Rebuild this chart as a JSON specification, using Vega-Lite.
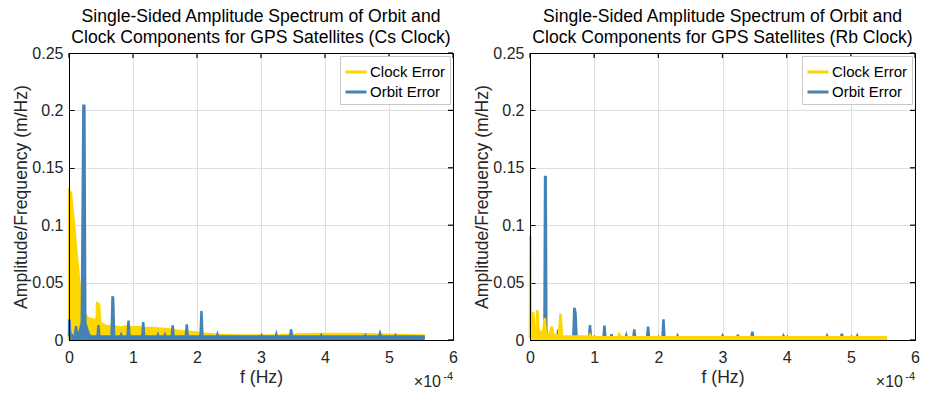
{
  "$schema": "https://vega.github.io/schema/vega-lite/v6.json",
  "background": "white",
  "padding": {"left": 12, "top": 7, "right": 5, "bottom": 5},
  "config": {
    "font": "Liberation Sans",
    "view": {"stroke": null},
    "axis": {
      "labelColor": "#262626",
      "labelFontSize": 16,
      "labelFont": "Liberation Sans",
      "titleFont": "Liberation Sans",
      "titleFontSize": 17.6,
      "titleFontWeight": "normal",
      "titleColor": "#262626"
    },
    "legend": {
      "orient": "top-right",
      "offset": 3,
      "strokeColor": "#c8c8c8",
      "fillColor": "white",
      "padding": 4,
      "labelFontSize": 15,
      "labelFont": "Liberation Sans",
      "labelColor": "#000000",
      "symbolType": "stroke",
      "symbolStrokeWidth": 3,
      "symbolSize": 441,
      "labelOffset": 2,
      "rowPadding": -3,
      "title": null
    },
    "title": {"fontSize": 17.6, "fontWeight": "normal", "font": "Liberation Sans", "color": "#000000", "lineHeight": 21, "offset": -1.5}
  },
  "datasets": {
    "xt": [{"t":0},{"t":1},{"t":2},{"t":3},{"t":4},{"t":5},{"t":6}],
    "yt": [{"t":0},{"t":0.05},{"t":0.1},{"t":0.15},{"t":0.2},{"t":0.25}]
  },
  "data": {"values": [
    {"panel":"Cs","series":"Clock Error","f":0,"v":0},
    {"panel":"Cs","series":"Clock Error","f":0.003,"v":0.13},
    {"panel":"Cs","series":"Clock Error","f":0.03,"v":0.128},
    {"panel":"Cs","series":"Clock Error","f":0.05,"v":0.116},
    {"panel":"Cs","series":"Clock Error","f":0.08,"v":0.1},
    {"panel":"Cs","series":"Clock Error","f":0.11,"v":0.08},
    {"panel":"Cs","series":"Clock Error","f":0.135,"v":0.066},
    {"panel":"Cs","series":"Clock Error","f":0.16,"v":0.05},
    {"panel":"Cs","series":"Clock Error","f":0.18,"v":0.038},
    {"panel":"Cs","series":"Clock Error","f":0.21,"v":0.027},
    {"panel":"Cs","series":"Clock Error","f":0.25,"v":0.022},
    {"panel":"Cs","series":"Clock Error","f":0.3,"v":0.019},
    {"panel":"Cs","series":"Clock Error","f":0.38,"v":0.018},
    {"panel":"Cs","series":"Clock Error","f":0.43,"v":0.017},
    {"panel":"Cs","series":"Clock Error","f":0.44,"v":0.032},
    {"panel":"Cs","series":"Clock Error","f":0.47,"v":0.031},
    {"panel":"Cs","series":"Clock Error","f":0.49,"v":0.015},
    {"panel":"Cs","series":"Clock Error","f":0.55,"v":0.013},
    {"panel":"Cs","series":"Clock Error","f":0.6,"v":0.012},
    {"panel":"Cs","series":"Clock Error","f":0.7,"v":0.012},
    {"panel":"Cs","series":"Clock Error","f":0.8,"v":0.011},
    {"panel":"Cs","series":"Clock Error","f":0.9,"v":0.012},
    {"panel":"Cs","series":"Clock Error","f":1.0,"v":0.011},
    {"panel":"Cs","series":"Clock Error","f":1.1,"v":0.011},
    {"panel":"Cs","series":"Clock Error","f":1.2,"v":0.0105},
    {"panel":"Cs","series":"Clock Error","f":1.3,"v":0.0105},
    {"panel":"Cs","series":"Clock Error","f":1.4,"v":0.01},
    {"panel":"Cs","series":"Clock Error","f":1.5,"v":0.0095},
    {"panel":"Cs","series":"Clock Error","f":1.6,"v":0.009},
    {"panel":"Cs","series":"Clock Error","f":1.7,"v":0.008},
    {"panel":"Cs","series":"Clock Error","f":1.8,"v":0.0075},
    {"panel":"Cs","series":"Clock Error","f":1.9,"v":0.007},
    {"panel":"Cs","series":"Clock Error","f":2.0,"v":0.0065},
    {"panel":"Cs","series":"Clock Error","f":2.1,"v":0.0055},
    {"panel":"Cs","series":"Clock Error","f":2.2,"v":0.005},
    {"panel":"Cs","series":"Clock Error","f":2.3,"v":0.0045},
    {"panel":"Cs","series":"Clock Error","f":2.6,"v":0.004},
    {"panel":"Cs","series":"Clock Error","f":3.0,"v":0.004},
    {"panel":"Cs","series":"Clock Error","f":3.3,"v":0.0042},
    {"panel":"Cs","series":"Clock Error","f":3.6,"v":0.0048},
    {"panel":"Cs","series":"Clock Error","f":3.9,"v":0.0052},
    {"panel":"Cs","series":"Clock Error","f":4.2,"v":0.0053},
    {"panel":"Cs","series":"Clock Error","f":4.5,"v":0.0052},
    {"panel":"Cs","series":"Clock Error","f":4.8,"v":0.0048},
    {"panel":"Cs","series":"Clock Error","f":5.1,"v":0.0043},
    {"panel":"Cs","series":"Clock Error","f":5.4,"v":0.004},
    {"panel":"Cs","series":"Clock Error","f":5.56,"v":0.004},

    {"panel":"Cs","series":"Orbit Error","f":0,"v":0.003},
    {"panel":"Cs","series":"Orbit Error","f":0.005,"v":0.018},
    {"panel":"Cs","series":"Orbit Error","f":0.02,"v":0.006},
    {"panel":"Cs","series":"Orbit Error","f":0.05,"v":0.004},
    {"panel":"Cs","series":"Orbit Error","f":0.09,"v":0.003},
    {"panel":"Cs","series":"Orbit Error","f":0.11,"v":0.012},
    {"panel":"Cs","series":"Orbit Error","f":0.13,"v":0.003},
    {"panel":"Cs","series":"Orbit Error","f":0.17,"v":0.008},
    {"panel":"Cs","series":"Orbit Error","f":0.2,"v":0.015},
    {"panel":"Cs","series":"Orbit Error","f":0.225,"v":0.204},
    {"panel":"Cs","series":"Orbit Error","f":0.24,"v":0.204},
    {"panel":"Cs","series":"Orbit Error","f":0.255,"v":0.015},
    {"panel":"Cs","series":"Orbit Error","f":0.29,"v":0.008},
    {"panel":"Cs","series":"Orbit Error","f":0.33,"v":0.003},
    {"panel":"Cs","series":"Orbit Error","f":0.445,"v":0.003},
    {"panel":"Cs","series":"Orbit Error","f":0.46,"v":0.013},
    {"panel":"Cs","series":"Orbit Error","f":0.475,"v":0.003},
    {"panel":"Cs","series":"Orbit Error","f":0.665,"v":0.003},
    {"panel":"Cs","series":"Orbit Error","f":0.68,"v":0.038},
    {"panel":"Cs","series":"Orbit Error","f":0.69,"v":0.036},
    {"panel":"Cs","series":"Orbit Error","f":0.705,"v":0.003},
    {"panel":"Cs","series":"Orbit Error","f":0.805,"v":0.003},
    {"panel":"Cs","series":"Orbit Error","f":0.815,"v":0.0045},
    {"panel":"Cs","series":"Orbit Error","f":0.825,"v":0.003},
    {"panel":"Cs","series":"Orbit Error","f":0.915,"v":0.003},
    {"panel":"Cs","series":"Orbit Error","f":0.93,"v":0.017},
    {"panel":"Cs","series":"Orbit Error","f":0.945,"v":0.003},
    {"panel":"Cs","series":"Orbit Error","f":1.145,"v":0.003},
    {"panel":"Cs","series":"Orbit Error","f":1.16,"v":0.0155},
    {"panel":"Cs","series":"Orbit Error","f":1.175,"v":0.003},
    {"panel":"Cs","series":"Orbit Error","f":1.38,"v":0.003},
    {"panel":"Cs","series":"Orbit Error","f":1.39,"v":0.0045},
    {"panel":"Cs","series":"Orbit Error","f":1.4,"v":0.003},
    {"panel":"Cs","series":"Orbit Error","f":1.49,"v":0.003},
    {"panel":"Cs","series":"Orbit Error","f":1.5,"v":0.0045},
    {"panel":"Cs","series":"Orbit Error","f":1.51,"v":0.003},
    {"panel":"Cs","series":"Orbit Error","f":1.605,"v":0.003},
    {"panel":"Cs","series":"Orbit Error","f":1.62,"v":0.0128},
    {"panel":"Cs","series":"Orbit Error","f":1.635,"v":0.003},
    {"panel":"Cs","series":"Orbit Error","f":1.825,"v":0.003},
    {"panel":"Cs","series":"Orbit Error","f":1.84,"v":0.0137},
    {"panel":"Cs","series":"Orbit Error","f":1.855,"v":0.003},
    {"panel":"Cs","series":"Orbit Error","f":2.055,"v":0.003},
    {"panel":"Cs","series":"Orbit Error","f":2.07,"v":0.0253},
    {"panel":"Cs","series":"Orbit Error","f":2.085,"v":0.003},
    {"panel":"Cs","series":"Orbit Error","f":2.31,"v":0.003},
    {"panel":"Cs","series":"Orbit Error","f":2.32,"v":0.0048},
    {"panel":"Cs","series":"Orbit Error","f":2.33,"v":0.003},
    {"panel":"Cs","series":"Orbit Error","f":3.0,"v":0.003},
    {"panel":"Cs","series":"Orbit Error","f":3.01,"v":0.004},
    {"panel":"Cs","series":"Orbit Error","f":3.02,"v":0.003},
    {"panel":"Cs","series":"Orbit Error","f":3.23,"v":0.003},
    {"panel":"Cs","series":"Orbit Error","f":3.24,"v":0.005},
    {"panel":"Cs","series":"Orbit Error","f":3.25,"v":0.003},
    {"panel":"Cs","series":"Orbit Error","f":3.455,"v":0.003},
    {"panel":"Cs","series":"Orbit Error","f":3.47,"v":0.0093},
    {"panel":"Cs","series":"Orbit Error","f":3.485,"v":0.003},
    {"panel":"Cs","series":"Orbit Error","f":3.93,"v":0.003},
    {"panel":"Cs","series":"Orbit Error","f":3.94,"v":0.004},
    {"panel":"Cs","series":"Orbit Error","f":3.95,"v":0.003},
    {"panel":"Cs","series":"Orbit Error","f":4.62,"v":0.003},
    {"panel":"Cs","series":"Orbit Error","f":4.63,"v":0.004},
    {"panel":"Cs","series":"Orbit Error","f":4.64,"v":0.003},
    {"panel":"Cs","series":"Orbit Error","f":4.845,"v":0.003},
    {"panel":"Cs","series":"Orbit Error","f":4.86,"v":0.0058},
    {"panel":"Cs","series":"Orbit Error","f":4.875,"v":0.003},
    {"panel":"Cs","series":"Orbit Error","f":5.09,"v":0.003},
    {"panel":"Cs","series":"Orbit Error","f":5.1,"v":0.004},
    {"panel":"Cs","series":"Orbit Error","f":5.11,"v":0.003},
    {"panel":"Cs","series":"Orbit Error","f":5.56,"v":0.003},

    {"panel":"Rb","series":"Orbit Error","f":0,"v":0.002},
    {"panel":"Rb","series":"Orbit Error","f":0.005,"v":0.005},
    {"panel":"Rb","series":"Orbit Error","f":0.02,"v":0.003},
    {"panel":"Rb","series":"Orbit Error","f":0.2,"v":0.003},
    {"panel":"Rb","series":"Orbit Error","f":0.225,"v":0.006},
    {"panel":"Rb","series":"Orbit Error","f":0.235,"v":0.142},
    {"panel":"Rb","series":"Orbit Error","f":0.245,"v":0.142},
    {"panel":"Rb","series":"Orbit Error","f":0.255,"v":0.006},
    {"panel":"Rb","series":"Orbit Error","f":0.28,"v":0.002},
    {"panel":"Rb","series":"Orbit Error","f":0.425,"v":0.002},
    {"panel":"Rb","series":"Orbit Error","f":0.44,"v":0.009},
    {"panel":"Rb","series":"Orbit Error","f":0.455,"v":0.002},
    {"panel":"Rb","series":"Orbit Error","f":0.675,"v":0.002},
    {"panel":"Rb","series":"Orbit Error","f":0.69,"v":0.028},
    {"panel":"Rb","series":"Orbit Error","f":0.7,"v":0.026},
    {"panel":"Rb","series":"Orbit Error","f":0.71,"v":0.023},
    {"panel":"Rb","series":"Orbit Error","f":0.725,"v":0.002},
    {"panel":"Rb","series":"Orbit Error","f":0.92,"v":0.002},
    {"panel":"Rb","series":"Orbit Error","f":0.935,"v":0.013},
    {"panel":"Rb","series":"Orbit Error","f":0.95,"v":0.002},
    {"panel":"Rb","series":"Orbit Error","f":1.145,"v":0.002},
    {"panel":"Rb","series":"Orbit Error","f":1.16,"v":0.0125},
    {"panel":"Rb","series":"Orbit Error","f":1.175,"v":0.002},
    {"panel":"Rb","series":"Orbit Error","f":1.26,"v":0.002},
    {"panel":"Rb","series":"Orbit Error","f":1.27,"v":0.005},
    {"panel":"Rb","series":"Orbit Error","f":1.28,"v":0.002},
    {"panel":"Rb","series":"Orbit Error","f":1.49,"v":0.002},
    {"panel":"Rb","series":"Orbit Error","f":1.5,"v":0.004},
    {"panel":"Rb","series":"Orbit Error","f":1.51,"v":0.002},
    {"panel":"Rb","series":"Orbit Error","f":1.61,"v":0.002},
    {"panel":"Rb","series":"Orbit Error","f":1.625,"v":0.0093},
    {"panel":"Rb","series":"Orbit Error","f":1.64,"v":0.002},
    {"panel":"Rb","series":"Orbit Error","f":1.825,"v":0.002},
    {"panel":"Rb","series":"Orbit Error","f":1.84,"v":0.0116},
    {"panel":"Rb","series":"Orbit Error","f":1.855,"v":0.002},
    {"panel":"Rb","series":"Orbit Error","f":2.065,"v":0.002},
    {"panel":"Rb","series":"Orbit Error","f":2.08,"v":0.018},
    {"panel":"Rb","series":"Orbit Error","f":2.095,"v":0.002},
    {"panel":"Rb","series":"Orbit Error","f":2.29,"v":0.002},
    {"panel":"Rb","series":"Orbit Error","f":2.3,"v":0.0035},
    {"panel":"Rb","series":"Orbit Error","f":2.31,"v":0.002},
    {"panel":"Rb","series":"Orbit Error","f":2.99,"v":0.002},
    {"panel":"Rb","series":"Orbit Error","f":3.0,"v":0.0035},
    {"panel":"Rb","series":"Orbit Error","f":3.01,"v":0.002},
    {"panel":"Rb","series":"Orbit Error","f":3.23,"v":0.002},
    {"panel":"Rb","series":"Orbit Error","f":3.24,"v":0.0045},
    {"panel":"Rb","series":"Orbit Error","f":3.25,"v":0.002},
    {"panel":"Rb","series":"Orbit Error","f":3.45,"v":0.002},
    {"panel":"Rb","series":"Orbit Error","f":3.465,"v":0.0073},
    {"panel":"Rb","series":"Orbit Error","f":3.48,"v":0.002},
    {"panel":"Rb","series":"Orbit Error","f":3.94,"v":0.002},
    {"panel":"Rb","series":"Orbit Error","f":3.95,"v":0.0035},
    {"panel":"Rb","series":"Orbit Error","f":3.96,"v":0.002},
    {"panel":"Rb","series":"Orbit Error","f":4.62,"v":0.002},
    {"panel":"Rb","series":"Orbit Error","f":4.63,"v":0.0035},
    {"panel":"Rb","series":"Orbit Error","f":4.64,"v":0.002},
    {"panel":"Rb","series":"Orbit Error","f":4.845,"v":0.002},
    {"panel":"Rb","series":"Orbit Error","f":4.86,"v":0.0055},
    {"panel":"Rb","series":"Orbit Error","f":4.875,"v":0.002},
    {"panel":"Rb","series":"Orbit Error","f":5.09,"v":0.002},
    {"panel":"Rb","series":"Orbit Error","f":5.1,"v":0.0035},
    {"panel":"Rb","series":"Orbit Error","f":5.11,"v":0.002},
    {"panel":"Rb","series":"Orbit Error","f":5.56,"v":0.002},

    {"panel":"Rb","series":"Clock Error","f":0,"v":0.002},
    {"panel":"Rb","series":"Clock Error","f":0.004,"v":0.091},
    {"panel":"Rb","series":"Clock Error","f":0.012,"v":0.01},
    {"panel":"Rb","series":"Clock Error","f":0.018,"v":0.024},
    {"panel":"Rb","series":"Clock Error","f":0.03,"v":0.018},
    {"panel":"Rb","series":"Clock Error","f":0.05,"v":0.024},
    {"panel":"Rb","series":"Clock Error","f":0.07,"v":0.009},
    {"panel":"Rb","series":"Clock Error","f":0.1,"v":0.007},
    {"panel":"Rb","series":"Clock Error","f":0.115,"v":0.026},
    {"panel":"Rb","series":"Clock Error","f":0.13,"v":0.008},
    {"panel":"Rb","series":"Clock Error","f":0.2,"v":0.006},
    {"panel":"Rb","series":"Clock Error","f":0.23,"v":0.019},
    {"panel":"Rb","series":"Clock Error","f":0.25,"v":0.005},
    {"panel":"Rb","series":"Clock Error","f":0.3,"v":0.004},
    {"panel":"Rb","series":"Clock Error","f":0.34,"v":0.0116},
    {"panel":"Rb","series":"Clock Error","f":0.37,"v":0.004},
    {"panel":"Rb","series":"Clock Error","f":0.45,"v":0.004},
    {"panel":"Rb","series":"Clock Error","f":0.475,"v":0.023},
    {"panel":"Rb","series":"Clock Error","f":0.5,"v":0.003},
    {"panel":"Rb","series":"Clock Error","f":0.6,"v":0.003},
    {"panel":"Rb","series":"Clock Error","f":0.92,"v":0.003},
    {"panel":"Rb","series":"Clock Error","f":0.935,"v":0.0045},
    {"panel":"Rb","series":"Clock Error","f":0.95,"v":0.0025},
    {"panel":"Rb","series":"Clock Error","f":1.38,"v":0.0025},
    {"panel":"Rb","series":"Clock Error","f":1.39,"v":0.005},
    {"panel":"Rb","series":"Clock Error","f":1.42,"v":0.0025},
    {"panel":"Rb","series":"Clock Error","f":5.56,"v":0.0025}
  ]},
  "spacing": 15,
  "resolve": {"legend": {"color": "independent"}},
  "hconcat": [
    {
      "width": 384,
      "height": 287,
      "title": {"text": ["Single-Sided Amplitude Spectrum of Orbit and", "Clock Components for GPS Satellites (Cs Clock)"]},
      "layer": [
        {
          "transform": [{"filter": "datum.panel == 'Cs' && datum.series == 'Clock Error'"}],
          "mark": {"type": "area", "line": {"strokeWidth": 2.5}, "opacity": 1},
          "encoding": {
            "x": {"field": "f", "type": "quantitative", "scale": {"domain": [0, 6], "nice": false}, "axis": {"orient": "bottom", "values": [0,1,2,3,4,5,6], "format": "d", "labelFlush": false, "title": "f (Hz)", "grid": true, "gridColor": "#dfdfdf", "domain": false, "ticks": true, "tickSize": -5, "tickColor": "#000000", "labelPadding": 14, "titlePadding": 3}},
            "y": {"field": "v", "type": "quantitative", "scale": {"domain": [0, 0.25], "nice": false}, "axis": {"orient": "left", "values": [0,0.05,0.1,0.15,0.2,0.25], "format": "~g", "labelFlush": false, "title": "Amplitude/Frequency (m/Hz)", "grid": true, "gridColor": "#dfdfdf", "domain": false, "ticks": true, "tickSize": -5, "tickColor": "#000000", "labelPadding": 11, "titlePadding": 1}},
            "color": {"field": "series", "type": "nominal", "scale": {"domain": ["Clock Error", "Orbit Error"], "range": ["#ffd700", "#4682b4"]}}
          }
        },
        {
          "transform": [{"filter": "datum.panel == 'Cs' && datum.series == 'Orbit Error'"}],
          "mark": {"type": "area", "line": {"strokeWidth": 2.5}, "opacity": 1},
          "encoding": {
            "x": {"field": "f", "type": "quantitative"},
            "y": {"field": "v", "type": "quantitative"},
            "color": {"field": "series", "type": "nominal"}
          }
        },
        {
          "data": {"name": "xt"},
          "mark": {"type": "rule", "stroke": "#000000", "strokeWidth": 1.2, "opacity": 1},
          "encoding": {"x": {"field": "t", "type": "quantitative"}, "y": {"datum": 0.25, "type": "quantitative"}, "y2": {"datum": 0.24564}}
        },
        {
          "data": {"name": "yt"},
          "mark": {"type": "rule", "stroke": "#000000", "strokeWidth": 1.2, "opacity": 1},
          "encoding": {"y": {"field": "t", "type": "quantitative"}, "x": {"datum": 6, "type": "quantitative"}, "x2": {"datum": 5.922}}
        },
        {
          "data": {"values": [{}]},
          "mark": {"type": "rect", "fill": null, "filled": false, "stroke": "#000000", "strokeWidth": 1, "opacity": 1, "xOffset": 0.5, "x2Offset": 0.5, "yOffset": 0.5, "y2Offset": 0.5},
          "encoding": {"x": {"datum": 0, "type": "quantitative"}, "x2": {"datum": 6}, "y": {"datum": 0, "type": "quantitative"}, "y2": {"datum": 0.25}}
        },
        {
          "data": {"values": [{}]},
          "mark": {"type": "text", "align": "right", "baseline": "alphabetic", "dx": -12, "dy": 47, "fontSize": 16, "color": "#262626", "font": "Liberation Sans"},
          "encoding": {"x": {"datum": 6, "type": "quantitative"}, "y": {"datum": 0, "type": "quantitative"}, "text": {"value": "×10"}}
        },
        {
          "data": {"values": [{}]},
          "mark": {"type": "text", "align": "right", "baseline": "alphabetic", "dx": 0, "dy": 40, "fontSize": 11, "color": "#262626", "font": "Liberation Sans"},
          "encoding": {"x": {"datum": 6, "type": "quantitative"}, "y": {"datum": 0, "type": "quantitative"}, "text": {"value": "-4"}}
        }
      ]
    },
    {
      "width": 385,
      "height": 287,
      "title": {"text": ["Single-Sided Amplitude Spectrum of Orbit and", "Clock Components for GPS Satellites (Rb Clock)"]},
      "layer": [
        {
          "transform": [{"filter": "datum.panel == 'Rb' && datum.series == 'Orbit Error'"}],
          "mark": {"type": "area", "line": {"strokeWidth": 2.5}, "opacity": 1},
          "encoding": {
            "x": {"field": "f", "type": "quantitative", "scale": {"domain": [0, 6], "nice": false}, "axis": {"orient": "bottom", "values": [0,1,2,3,4,5,6], "format": "d", "labelFlush": false, "title": "f (Hz)", "grid": true, "gridColor": "#dfdfdf", "domain": false, "ticks": true, "tickSize": -5, "tickColor": "#000000", "labelPadding": 14, "titlePadding": 3}},
            "y": {"field": "v", "type": "quantitative", "scale": {"domain": [0, 0.25], "nice": false}, "axis": {"orient": "left", "values": [0,0.05,0.1,0.15,0.2,0.25], "format": "~g", "labelFlush": false, "title": "Amplitude/Frequency (m/Hz)", "grid": true, "gridColor": "#dfdfdf", "domain": false, "ticks": true, "tickSize": -5, "tickColor": "#000000", "labelPadding": 11, "titlePadding": 1}},
            "color": {"field": "series", "type": "nominal", "scale": {"domain": ["Clock Error", "Orbit Error"], "range": ["#ffd700", "#4682b4"]}}
          }
        },
        {
          "transform": [{"filter": "datum.panel == 'Rb' && datum.series == 'Clock Error'"}],
          "mark": {"type": "area", "line": {"strokeWidth": 2.5}, "opacity": 1},
          "encoding": {
            "x": {"field": "f", "type": "quantitative"},
            "y": {"field": "v", "type": "quantitative"},
            "color": {"field": "series", "type": "nominal"}
          }
        },
        {
          "data": {"name": "xt"},
          "mark": {"type": "rule", "stroke": "#000000", "strokeWidth": 1.2, "opacity": 1},
          "encoding": {"x": {"field": "t", "type": "quantitative"}, "y": {"datum": 0.25, "type": "quantitative"}, "y2": {"datum": 0.24564}}
        },
        {
          "data": {"name": "yt"},
          "mark": {"type": "rule", "stroke": "#000000", "strokeWidth": 1.2, "opacity": 1},
          "encoding": {"y": {"field": "t", "type": "quantitative"}, "x": {"datum": 6, "type": "quantitative"}, "x2": {"datum": 5.922}}
        },
        {
          "data": {"values": [{}]},
          "mark": {"type": "rect", "fill": null, "filled": false, "stroke": "#000000", "strokeWidth": 1, "opacity": 1, "xOffset": 0.5, "x2Offset": 0.5, "yOffset": 0.5, "y2Offset": 0.5},
          "encoding": {"x": {"datum": 0, "type": "quantitative"}, "x2": {"datum": 6}, "y": {"datum": 0, "type": "quantitative"}, "y2": {"datum": 0.25}}
        },
        {
          "data": {"values": [{}]},
          "mark": {"type": "text", "align": "right", "baseline": "alphabetic", "dx": -12, "dy": 47, "fontSize": 16, "color": "#262626", "font": "Liberation Sans"},
          "encoding": {"x": {"datum": 6, "type": "quantitative"}, "y": {"datum": 0, "type": "quantitative"}, "text": {"value": "×10"}}
        },
        {
          "data": {"values": [{}]},
          "mark": {"type": "text", "align": "right", "baseline": "alphabetic", "dx": 0, "dy": 40, "fontSize": 11, "color": "#262626", "font": "Liberation Sans"},
          "encoding": {"x": {"datum": 6, "type": "quantitative"}, "y": {"datum": 0, "type": "quantitative"}, "text": {"value": "-4"}}
        }
      ]
    }
  ]
}
